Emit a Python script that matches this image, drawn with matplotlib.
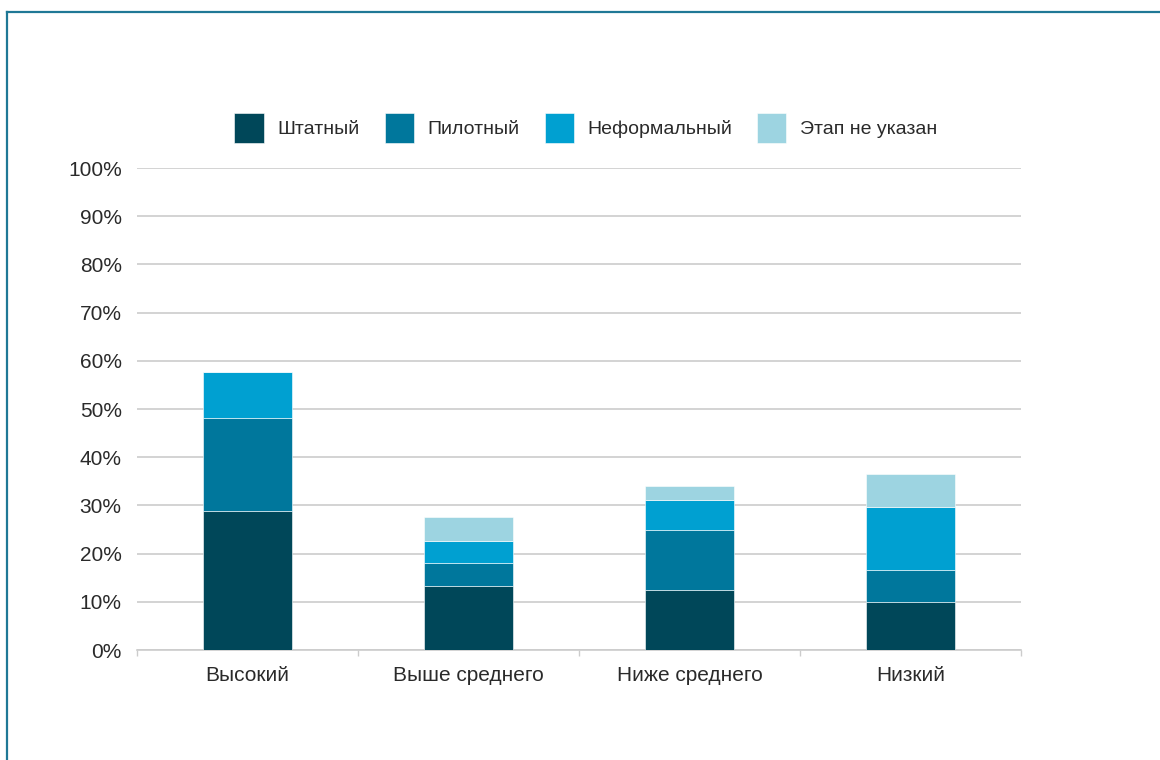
import matplotlib
matplotlib.use('Agg')
import matplotlib.pyplot as plt
from matplotlib.lines import Line2D
import numpy as np

plt.rcParams['font.family'] = ['Liberation Sans', 'DejaVu Sans']

# Data (share of respondents, %)
categories = ['Высокий', 'Выше среднего', 'Ниже среднего', 'Низкий']
series_names = ['Штатный', 'Пилотный', 'Неформальный', 'Этап не указан']
shtatny = [28.8, 13.3, 12.4, 10.0]
pilotny = [19.3, 4.7, 12.5, 6.6]
neformalny = [9.6, 4.6, 6.2, 13.1]
etap_ne_ukazan = [0.0, 5.0, 2.9, 6.8]
y_ticks = [0, 10, 20, 30, 40, 50, 60, 70, 80, 90, 100]

colours = ['#004759', '#00779c', '#00a0d1', '#9dd4e1']
text_col = '#2a2a2a'
grid_col = '#cccccc'

fig = plt.figure(figsize=(11.6, 7.6), dpi=100)
ax = fig.add_axes([0.1181, 0.1447, 0.7621, 0.6342])

x = np.arange(len(categories))
bottom = np.zeros(len(categories))
for name, vals, col in zip(series_names, [shtatny, pilotny, neformalny, etap_ne_ukazan], colours):
    ax.bar(x, vals, width=0.4, bottom=bottom, color=col, label=name,
           edgecolor='#ffffff', linewidth=0.4, zorder=3)
    bottom += np.array(vals)

ax.set_xlim(-0.5, len(categories) - 0.5)
ax.set_ylim(0, 100)
ax.set_yticks(y_ticks)
ax.set_yticklabels([f'{v}%' for v in y_ticks])
ax.set_xticks(x)
ax.set_xticklabels(categories)
ax.set_xticks(np.arange(-0.5, len(categories), 1), minor=True)

ax.tick_params(axis='y', length=0, pad=11, labelsize=15, labelcolor=text_col)
ax.tick_params(axis='x', which='major', length=0, pad=11.5, labelsize=15, labelcolor=text_col)
ax.tick_params(axis='x', which='minor', length=4, width=1, color=grid_col)

ax.grid(True, axis='y', color=grid_col, linewidth=1.2, zorder=0)
ax.set_axisbelow(True)
for s in ['top', 'right', 'left']:
    ax.spines[s].set_visible(False)
ax.spines['bottom'].set_color(grid_col)
ax.spines['bottom'].set_linewidth(1.2)

ax.legend(loc='center', bbox_to_anchor=(0.508, 1.083), ncol=4, frameon=False,
          fontsize=14, labelcolor=text_col, handlelength=1.5, handleheight=2.0,
          handletextpad=0.72, columnspacing=1.27)

# outer frame (left and top only)
frame_col = '#1f7896'
fig.add_artist(Line2D([7 / 1160, 7 / 1160], [0, 1 - 12 / 760], color=frame_col, linewidth=1.6))
fig.add_artist(Line2D([7 / 1160, 1], [1 - 12 / 760, 1 - 12 / 760], color=frame_col, linewidth=1.6))

fig.savefig('out.png', dpi=100, facecolor='white')
